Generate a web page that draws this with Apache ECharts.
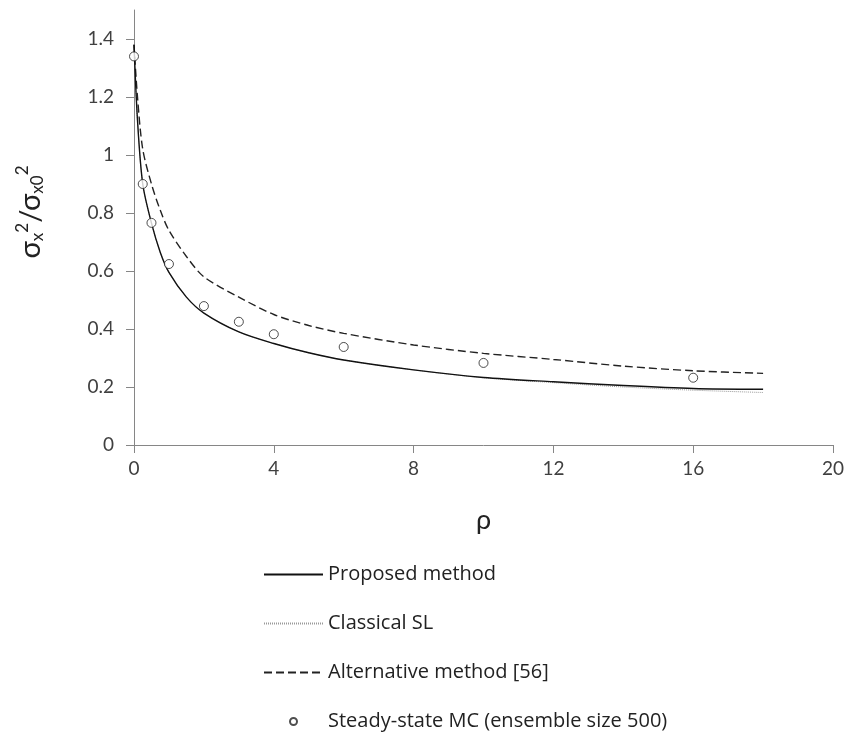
<!DOCTYPE html>
<html>
<head>
<meta charset="utf-8">
<script src="https://cdn.jsdelivr.net/npm/echarts@6/dist/echarts.min.js"></script>
<style>
  html, body { margin: 0; padding: 0; background: #fff; }
  #chart { width: 848px; height: 737px; }
</style>
</head>
<body>
<div id="chart"></div>
<script>
// curve samples (rho)
var rho = [0, 0.1, 0.25, 0.5, 0.75, 1, 1.5, 2, 3, 4, 5, 6, 8, 10, 12, 14, 16, 18];
var proposed = [1.38, 1.12, 0.90, 0.765, 0.665, 0.595, 0.51, 0.455, 0.39, 0.35, 0.318, 0.293, 0.259, 0.233, 0.218, 0.205, 0.195, 0.192];
var classical = [1.38, 1.12, 0.90, 0.765, 0.665, 0.595, 0.51, 0.455, 0.39, 0.35, 0.318, 0.293, 0.259, 0.232, 0.215, 0.200, 0.189, 0.181];
var alternative = [1.38, 1.20, 1.02, 0.90, 0.81, 0.74, 0.65, 0.58, 0.51, 0.45, 0.412, 0.385, 0.345, 0.316, 0.295, 0.272, 0.256, 0.247];
// Monte Carlo points
var mcRho = [0, 0.25, 0.5, 1, 2, 3, 4, 6, 10, 16];
var mcVal = [1.34, 0.90, 0.766, 0.624, 0.479, 0.425, 0.382, 0.338, 0.283, 0.232];
// tick labels
var xTicks = [0, 4, 8, 12, 16, 20];
var yTicks = [0, 0.2, 0.4, 0.6, 0.8, 1, 1.2, 1.4];

function pairs(xs, ys) {
    return xs.map(function (x, i) { return [x, ys[i]]; });
}

var axisGray = '#868686';
var labelFont = 'Lato, "Open Sans", sans-serif';

var option = {
    animation: false,
    backgroundColor: '#fff',
    grid: { left: 134, right: 15, top: 10, bottom: 292 },
    xAxis: {
        type: 'value',
        min: 0, max: 20, interval: 4,
        name: 'ρ',
        nameLocation: 'middle',
        nameGap: 62,
        nameTextStyle: { fontSize: 27, color: '#222', fontFamily: labelFont },
        axisLine: { lineStyle: { color: axisGray, width: 1 } },
        axisTick: { show: true, length: 8, inside: false, lineStyle: { color: axisGray } },
        axisLabel: { margin: 14, fontSize: 19, color: '#404040', fontFamily: labelFont, customValues: xTicks },
        splitLine: { show: false }
    },
    yAxis: {
        type: 'value',
        min: 0, max: 1.5,
        axisLine: { show: true, lineStyle: { color: axisGray, width: 1 } },
        axisTick: { show: true, length: 8, inside: false, lineStyle: { color: axisGray }, customValues: yTicks },
        axisLabel: { margin: 20, fontSize: 19, color: '#404040', fontFamily: labelFont, customValues: yTicks },
        splitLine: { show: false }
    },
    legend: {
        orient: 'vertical',
        left: 263,
        top: 563,
        padding: 0,
        itemWidth: 59,
        itemHeight: 7,
        itemGap: 26,
        textStyle: { fontSize: 20, color: '#222', fontFamily: '"Open Sans", sans-serif', lineHeight: 23 },
        data: [
            { name: 'Proposed method', itemStyle: { opacity: 0 } },
            { name: 'Classical SL', itemStyle: { opacity: 0 } },
            { name: 'Alternative method [56]', itemStyle: { opacity: 0 } },
            { name: 'Steady-state MC (ensemble size 500)' }
        ]
    },
    graphic: [{
        type: 'text',
        x: 31, y: 212,
        rotation: Math.PI / 2,
        style: {
            text: '{s|σ}{b|x}{t|2}{s|/σ}{b|x0}{t|2}',
            align: 'center',
            verticalAlign: 'middle',
            fill: '#222',
            rich: {
                s: { fontSize: 29, fontFamily: labelFont, fill: '#222' },
                b: { fontSize: 17, fontFamily: labelFont, fill: '#222', padding: [14, 0, 0, 0] },
                t: { fontSize: 17, fontFamily: labelFont, fill: '#222', padding: [0, 0, 16, 0] }
            }
        }
    }],
    series: [
        {
            name: 'Proposed method',
            type: 'line',
            data: pairs(rho, proposed),
            symbol: 'none',
            smooth: 0.3,
            lineStyle: { color: '#111', width: 1.4 },
            itemStyle: { color: '#111' },
            z: 4
        },
        {
            name: 'Classical SL',
            type: 'line',
            data: pairs(rho, classical),
            symbol: 'none',
            smooth: 0.3,
            lineStyle: { color: '#9a9a9a', width: 1, type: [1, 1] },
            itemStyle: { color: '#9a9a9a' },
            z: 3
        },
        {
            name: 'Alternative method [56]',
            type: 'line',
            data: pairs(rho, alternative),
            symbol: 'none',
            smooth: 0.3,
            lineStyle: { color: '#222', width: 1.4, type: [8, 4] },
            itemStyle: { color: '#222' },
            z: 3
        },
        {
            name: 'Steady-state MC (ensemble size 500)',
            type: 'scatter',
            data: pairs(mcRho, mcVal),
            symbol: 'circle',
            symbolSize: 9,
            itemStyle: { color: '#fff', borderColor: '#222', borderWidth: 1 },
            z: 5
        }
    ]
};

var mychart = echarts.init(document.getElementById('chart'));
mychart.setOption(option);
</script>
</body>
</html>
